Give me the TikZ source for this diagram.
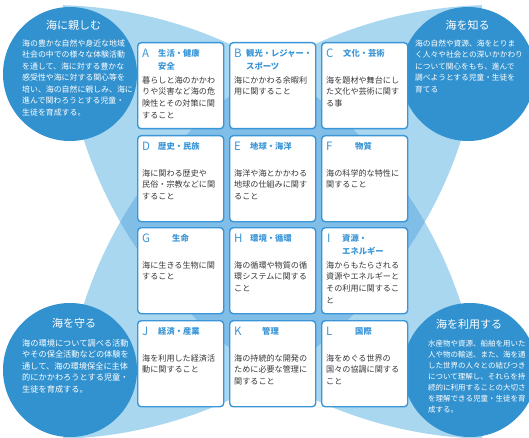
\documentclass[tikz,border=0pt]{standalone}
\usepackage{fontspec}
\setmainfont{Noto Sans CJK JP}
\usetikzlibrary{calc}
\definecolor{cdark}{RGB}{50,146,208}
\definecolor{clight}{RGB}{170,215,240}
\definecolor{cmid}{RGB}{128,190,232}
\definecolor{cborder}{RGB}{58,150,215}
\definecolor{ctext}{RGB}{55,55,55}
\tikzset{
  corner/.style={circle,fill=cdark,minimum size=134pt,inner sep=0},
  ctitle/.style={text=white,font=\fontsize{11}{13}\selectfont,inner sep=0},
  cbody/.style={text=white,align=left,anchor=north west,inner sep=0},
  topic/.style={draw=cborder,line width=1.4pt,fill=white,rounded corners=3.5pt,minimum width=86pt,minimum height=86pt,anchor=north west,inner sep=0},
  letter/.style={text=cborder,font=\fontsize{11.5}{13}\selectfont,anchor=west,inner sep=0},
  ttl/.style={text=cborder,font=\bfseries\fontsize{8.3}{13}\selectfont,align=left,anchor=north west,inner sep=0},
  bbody/.style={text=ctext,font=\fontsize{8.1}{11.7}\selectfont,align=left,anchor=north west,inner sep=0},
}
\begin{document}
\begin{tikzpicture}[x=1pt,y=-1pt]
\useasboundingbox (0,0) rectangle (529,438);
\begin{scope}
\clip (0,0) rectangle (529,438);
% background lenses
\begin{scope}
\clip (50,437) circle (432pt);
\fill[clight] (495,7) circle (432pt);
\end{scope}
\begin{scope}
\clip (495,437) circle (432pt);
\fill[clight] (50,7) circle (432pt);
\end{scope}
\begin{scope}
\clip (50,437) circle (432pt);
\clip (495,7) circle (432pt);
\clip (495,437) circle (432pt);
\fill[cmid] (50,7) circle (432pt);
\end{scope}
% corner circles
\node[corner] (tl) at (70,74) {};
\node[corner] (tr) at (468,74) {};
\node[corner] (bl) at (70,370) {};
\node[corner] (br) at (470,370) {};
\end{scope}

\node[ctitle] (tlt) at (73.5,25) {海に親しむ};
\node[cbody,font=\fontsize{7.9}{11.5}\selectfont] (tlb) at (22,39.3) {海の豊かな自然や身近な地域\\社会の中での様々な体験活動\\を通して、海に対する豊かな\\感受性や海に対する関心等を\\培い、海の自然に親しみ、海に\\進んで関わろうとする児童・\\生徒を育成する。};

\node[ctitle] (trt) at (467.5,25) {海を知る};
\node[cbody,font=\fontsize{7.7}{11.5}\selectfont] (trb) at (415,39.4) {海の自然や資源、海をとりま\\く人々や社会との深いかかわり\\について関心をもち、進んで\\調べようとする児童・生徒を\\育てる};

\node[ctitle] (blt) at (74,323) {海を守る};
\node[cbody,font=\fontsize{8.2}{11.5}\selectfont] (blb) at (22,339.1) {海の環境について調べる活動\\やその保全活動などの体験を\\通して、海の環境保全に主体\\的にかかわろうとする児童・\\生徒を育成する。};

\node[ctitle] (brt) at (469,324) {海を利用する};
\node[cbody,font=\fontsize{7.5}{11}\selectfont] (brb) at (428,339.5) {水産物や資源、船舶を用いた\\人や物の輸送、また、海を通\\した世界の人々との結びつき\\について理解し、それらを持\\続的に利用することの大切さ\\を理解できる児童・生徒を育\\成する。};

% row 1
\node[topic] (A) at (137,42) {};
\node[letter] (Al) at ($(A.north west)+(5,11)$) {A};
\node[ttl] (At) at ($(A.north west)+(21,7.1)$) {生活・健康\\安全};
\node[bbody] (Ab) at ($(A.north west)+(5,34.2)$) {暮らしと海のかかわ\\りや災害など海の危\\険性とその対策に関\\すること};

\node[topic] (B) at (229,42) {};
\node[letter] (Bl) at ($(B.north west)+(5,11)$) {B};
\node[ttl] (Bt) at ($(B.north west)+(17,7.1)$) {観光・レジャー・\\スポーツ};
\node[bbody] (Bb) at ($(B.north west)+(5,34.2)$) {海にかかわる余暇利\\用に関すること};

\node[topic] (C) at (321,42) {};
\node[letter] (Cl) at ($(C.north west)+(5,11)$) {C};
\node[ttl] (Ct) at ($(C.north west)+(22,7.1)$) {文化・芸術};
\node[bbody] (Cb) at ($(C.north west)+(5,34.2)$) {海を題材や舞台にし\\た文化や芸術に関す\\る事};

% row 2
\node[topic] (D) at (137,135) {};
\node[letter] (Dl) at ($(D.north west)+(5,11)$) {D};
\node[ttl] (Dt) at ($(D.north west)+(21,7.1)$) {歴史・民族};
\node[bbody] (Db) at ($(D.north west)+(5,34.2)$) {海に関わる歴史や\\民俗・宗教などに関\\すること};

\node[topic] (E) at (229,135) {};
\node[letter] (El) at ($(E.north west)+(5,11)$) {E};
\node[ttl] (Et) at ($(E.north west)+(21,7.1)$) {地球・海洋};
\node[bbody] (Eb) at ($(E.north west)+(5,34.2)$) {海洋や海とかかわる\\地球の仕組みに関す\\ること};

\node[topic] (F) at (321,135) {};
\node[letter] (Fl) at ($(F.north west)+(5,11)$) {F};
\node[ttl] (Ft) at ($(F.north west)+(34,7.1)$) {物質};
\node[bbody] (Fb) at ($(F.north west)+(5,34.2)$) {海の科学的な特性に\\関すること};

% row 3
\node[topic] (G) at (137,227) {};
\node[letter] (Gl) at ($(G.north west)+(5,11)$) {G};
\node[ttl] (Gt) at ($(G.north west)+(35,7.1)$) {生命};
\node[bbody] (Gb) at ($(G.north west)+(5,34.2)$) {海に生きる生物に関\\すること};

\node[topic] (H) at (229,227) {};
\node[letter] (Hl) at ($(H.north west)+(5,11)$) {H};
\node[ttl] (Ht) at ($(H.north west)+(21,7.1)$) {環境・循環};
\node[bbody] (Hb) at ($(H.north west)+(5,34.2)$) {海の循環や物質の循\\環システムに関する\\こと};

\node[topic] (I) at (321,227) {};
\node[letter] (Il) at ($(I.north west)+(6,11)$) {I};
\node[ttl] (It) at ($(I.north west)+(21,7.1)$) {資源・\\エネルギー};
\node[bbody] (Ib) at ($(I.north west)+(5,34.2)$) {海からもたらされる\\資源やエネルギーと\\その利用に関するこ\\と};

% row 4
\node[topic] (J) at (137,320) {};
\node[letter] (Jl) at ($(J.north west)+(5,11)$) {J};
\node[ttl] (Jt) at ($(J.north west)+(21,7.1)$) {経済・産業};
\node[bbody] (Jb) at ($(J.north west)+(5,34.2)$) {海を利用した経済活\\動に関すること};

\node[topic] (K) at (229,320) {};
\node[letter] (Kl) at ($(K.north west)+(5,11)$) {K};
\node[ttl] (Kt) at ($(K.north west)+(33,7.1)$) {管理};
\node[bbody] (Kb) at ($(K.north west)+(5,34.2)$) {海の持続的な開発の\\ために必要な管理に\\関すること};

\node[topic] (L) at (321,320) {};
\node[letter] (Ll) at ($(L.north west)+(5,11)$) {L};
\node[ttl] (Lt) at ($(L.north west)+(34,7.1)$) {国際};
\node[bbody] (Lb) at ($(L.north west)+(5,34.2)$) {海をめぐる世界の\\国々の協調に関する\\こと};
\end{tikzpicture}
\end{document}
